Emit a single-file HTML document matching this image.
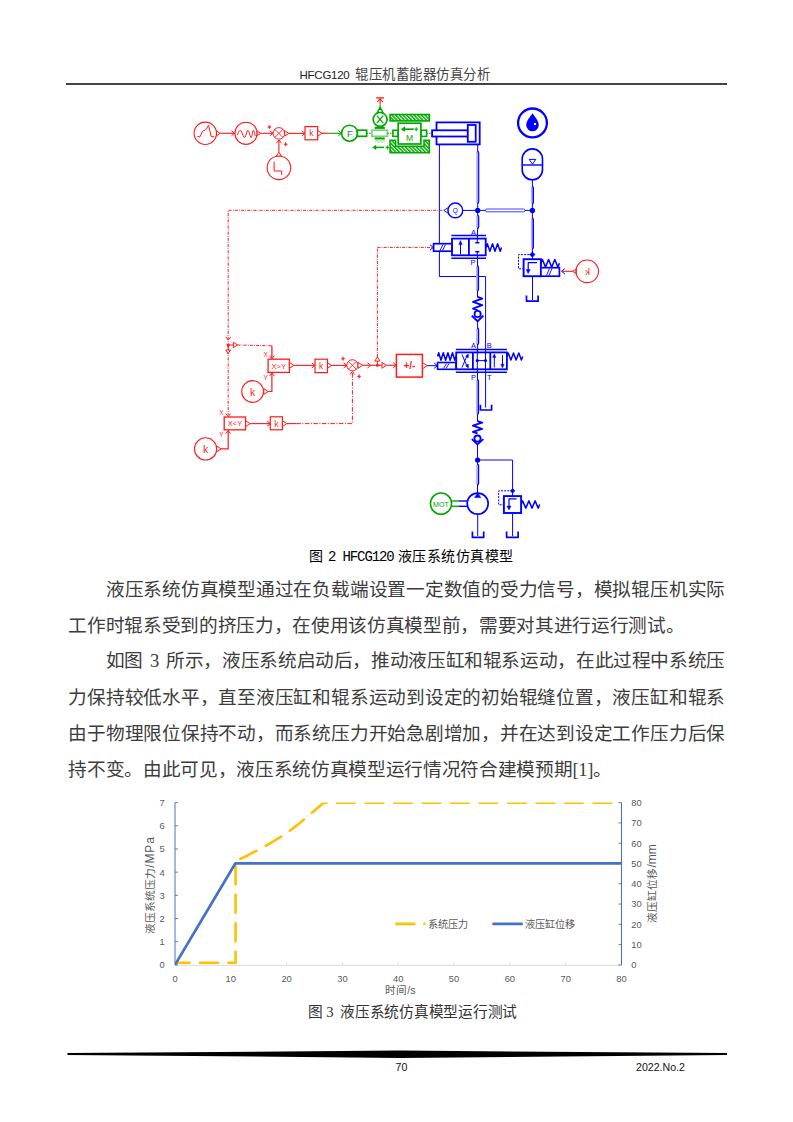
<!DOCTYPE html>
<html lang="zh-CN">
<head>
<meta charset="utf-8">
<style>
html,body{margin:0;padding:0;background:#fff;}
body{width:793px;height:1122px;position:relative;overflow:hidden;font-family:"Liberation Serif",serif;color:#000;}
.abs{position:absolute;white-space:nowrap;}
.hdr{left:299px;top:64px;font-family:"Liberation Sans",sans-serif;font-size:13px;line-height:18px;color:#222;}
.ln{position:absolute;left:68.3px;color:#3c3c3c;width:656.7px;height:20px;font-size:18.67px;line-height:20px;white-space:nowrap;letter-spacing:-0.33px;}
.j{text-align:justify;text-align-last:justify;white-space:nowrap;}
.cap2{left:309px;top:547px;letter-spacing:0.5px;font-size:14px;line-height:18px;font-family:"Liberation Sans",sans-serif;}
.mono{font-family:"Liberation Mono",monospace;letter-spacing:-1.1px;}
.cap3{left:308px;top:1003px;font-size:14.7px;line-height:18px;letter-spacing:-0.25px;color:#333;}
.foot{font-family:"Liberation Sans",sans-serif;font-size:10.6px;line-height:14px;color:#111;}
svg{position:absolute;left:0;top:0;}
</style>
</head>
<body>
<div class="abs hdr" style="left:299.5px;top:65.5px;font-size:11.5px;letter-spacing:-0.25px;">HFCG120</div>
<div class="abs hdr" id="hcjk" style="left:355px;top:66px;font-size:13.4px;letter-spacing:0.5px;color:#444;">辊压机蓄能器仿真分析</div>
<div class="abs" style="left:66px;top:83.2px;width:661px;height:1.6px;background:#444;"></div>

<div class="abs cap2">图 <span class="mono">2 HFCG120</span> 液压系统仿真模型</div>

<div class="ln j" style="top:579.8px;padding-left:37.5px;width:619.2px;">液压系统仿真模型通过在负载端设置一定数值的受力信号，模拟辊压机实际</div>
<div class="ln" style="top:615.8px;">工作时辊系受到的挤压力，在使用该仿真模型前，需要对其进行运行测试。</div>
<div class="ln j" style="top:651.4px;padding-left:37.5px;width:619.2px;word-spacing:2.75px;letter-spacing:-0.38px;">如图 3 所示，液压系统启动后，推动液压缸和辊系运动，在此过程中系统压</div>
<div class="ln j" style="top:688px;">力保持较低水平，直至液压缸和辊系运动到设定的初始辊缝位置，液压缸和辊系</div>
<div class="ln j" style="top:724.2px;">由于物理限位保持不动，而系统压力开始急剧增加，并在达到设定工作压力后保</div>
<div class="ln" style="top:760.2px;">持不变。由此可见，液压系统仿真模型运行情况符合建模预期[1]。</div>

<div class="abs cap3">图 3&nbsp; 液压系统仿真模型运行测试</div>

<svg width="793" height="1122" viewBox="0 0 793 1122">
<defs>
<pattern id="hatch" patternUnits="userSpaceOnUse" width="2.6" height="3" patternTransform="rotate(-45)"><rect width="2.6" height="3" fill="#fff"/><rect width="1.5" height="3" fill="#00a800"/></pattern>
<pattern id="hatchL" patternUnits="userSpaceOnUse" width="2.6" height="3" patternTransform="rotate(-45)"><rect width="2.6" height="3" fill="#fff"/><rect width="1.2" height="3" fill="#9bd89b"/></pattern>
</defs>
<g id="diag">
<circle cx="205.3" cy="133.3" r="11.2" stroke="#ff1a1a" stroke-width="1.1" fill="none" />
<polyline points="197.3,136.7 200.1,136.7 202.6,131.2 205.1,130.2 206.6,128.7 208.5,125.1 209.7,130.2 211.2,136.7 214.2,136.7" stroke="#ff1a1a" stroke-width="1.0" fill="none" stroke-linejoin="round" />
<polygon points="216.5,130.8 220.3,133.3 216.5,135.8" stroke="#ff1a1a" stroke-width="1.0" fill="#fff" stroke-linejoin="round" />
<line x1="220.3" y1="133.3" x2="234.6" y2="133.3" stroke="#ff1a1a" stroke-width="1.1" />
<polyline points="231.4,130.7 234.6,133.3 231.4,135.9" stroke="#ff1a1a" stroke-width="1.0" fill="none" stroke-linejoin="round" />
<circle cx="246" cy="133.3" r="11.1" stroke="#ff1a1a" stroke-width="1.1" fill="none" />
<polyline points="237.3,135 237.8,133.9 238.3,132.8 238.8,131.8 239.3,131 239.8,130.5 240.3,130.3 241,130.8 241.7,132.1 242.4,133.9 243.2,135.7 243.9,137 244.6,137.5 245.2,137 245.7,135.7 246.3,133.9 246.9,132.1 247.4,130.8 248,130.3 248.5,130.8 249.1,132.1 249.6,133.9 250.1,135.7 250.7,137 251.2,137.5 251.6,137 251.9,135.7 252.3,133.9 252.7,132.1 253,130.8 253.4,130.3 253.7,130.5 254,131.2 254.4,132.3 254.7,133.5 255,134.8 255.3,136" stroke="#ff1a1a" stroke-width="1.0" fill="none" stroke-linejoin="round" />
<polygon points="257.1,131 260.7,133.3 257.1,135.6" stroke="#ff1a1a" stroke-width="1.0" fill="#fff" stroke-linejoin="round" />
<line x1="260.7" y1="133.3" x2="273" y2="133.3" stroke="#ff1a1a" stroke-width="1.1" />
<polyline points="269.8,130.7 273,133.3 269.8,135.9" stroke="#ff1a1a" stroke-width="1.0" fill="none" stroke-linejoin="round" />
<circle cx="278.9" cy="133.4" r="5.8" stroke="#ff1a1a" stroke-width="1.0" fill="none" />
<line x1="274.8" y1="129.3" x2="283" y2="137.5" stroke="#ff1a1a" stroke-width="0.9" />
<line x1="283" y1="129.3" x2="274.8" y2="137.5" stroke="#ff1a1a" stroke-width="0.9" />
<polygon points="269.3,125.1 269.8,126.6 271.1,127.1 269.8,127.6 269.3,129.1 268.8,127.6 267.5,127.1 268.8,126.6" stroke="#ff1a1a" stroke-width="0.5" fill="#ff1a1a" stroke-linejoin="round" />
<polygon points="285.7,142.3 286.2,143.8 287.5,144.3 286.2,144.8 285.7,146.3 285.2,144.8 283.9,144.3 285.2,143.8" stroke="#ff1a1a" stroke-width="0.5" fill="#ff1a1a" stroke-linejoin="round" />
<polygon points="284.7,130.7 288.9,133.4 284.7,136.1" stroke="#ff1a1a" stroke-width="1.0" fill="#fff" stroke-linejoin="round" />
<line x1="288.9" y1="133.4" x2="305" y2="133.4" stroke="#ff1a1a" stroke-width="1.1" />
<polyline points="301.8,130.8 305,133.4 301.8,136" stroke="#ff1a1a" stroke-width="1.0" fill="none" stroke-linejoin="round" />
<rect x="305" y="126.6" width="12.7" height="13.2" stroke="#ff1a1a" stroke-width="1.2" fill="#fff" />
<text x="311.4" y="136.4" fill="#ff1a1a" font-size="8.5" font-family="Liberation Sans, sans-serif" text-anchor="middle" >k</text>
<polygon points="317.7,130.5 322,133.3 317.7,136.1" stroke="#ff1a1a" stroke-width="1.0" fill="#fff" stroke-linejoin="round" />
<line x1="322" y1="133.3" x2="330" y2="133.3" stroke="#ff1a1a" stroke-width="1.1" />
<line x1="330" y1="133.3" x2="341.5" y2="133.3" stroke="#00a800" stroke-width="1.1" />
<polyline points="338.3,130.7 341.5,133.3 338.3,135.9" stroke="#00a800" stroke-width="1.0" fill="none" stroke-linejoin="round" />
<circle cx="278.9" cy="167.8" r="11.8" stroke="#ff1a1a" stroke-width="1.1" fill="none" />
<polyline points="274.1,161.5 274.1,171 281.7,171 281.7,175.1" stroke="#ff1a1a" stroke-width="1.0" fill="none" stroke-linejoin="round" />
<polygon points="276.4,156 278.9,152.2 281.4,156" stroke="#ff1a1a" stroke-width="1.0" fill="#fff" stroke-linejoin="round" />
<line x1="278.9" y1="152.2" x2="278.9" y2="140" stroke="#ff1a1a" stroke-width="1.1" />
<polyline points="276.3,143.2 278.9,140 281.5,143.2" stroke="#ff1a1a" stroke-width="1.0" fill="none" stroke-linejoin="round" />
<circle cx="349.6" cy="133.2" r="8" stroke="#00a800" stroke-width="1.6" fill="#fff" />
<text x="349.8" y="136.6" fill="#00a800" font-size="9.5" font-family="Liberation Sans, sans-serif" text-anchor="middle" >F</text>
<rect x="357.4" y="130.2" width="9.2" height="6.1" stroke="#00a800" stroke-width="1.7" fill="#fff" />
<line x1="366.6" y1="133.3" x2="371.9" y2="133.3" stroke="#00a800" stroke-width="1.0" stroke-dasharray="1.5 1"/>
<rect x="375" y="127" width="9.7" height="1.8" stroke="#00a800" stroke-width="0.5" fill="#00a800" />
<rect x="371.9" y="130.2" width="15.5" height="6.1" stroke="#7fd07f" stroke-width="1.7" fill="#fff" />
<rect x="375" y="137.8" width="9.7" height="1.6" stroke="#00a800" stroke-width="0.5" fill="#00a800" />
<rect x="375" y="139.6" width="9.7" height="3.4" stroke="none" stroke-width="0" fill="url(#hatchL)" />
<polygon points="376.8,113.6 380.1,107.4 383.4,113.6" stroke="#00a800" stroke-width="1.5" fill="#fff" stroke-linejoin="round" />
<circle cx="380.1" cy="119.4" r="6.9" stroke="#00a800" stroke-width="1.7" fill="#fff" />
<line x1="376.9" y1="115.6" x2="383.3" y2="123.2" stroke="#00a800" stroke-width="1.3" />
<line x1="383.3" y1="115.6" x2="376.9" y2="123.2" stroke="#00a800" stroke-width="1.3" />
<line x1="380.1" y1="107.4" x2="380.1" y2="104.5" stroke="#00a800" stroke-width="1.1" />
<line x1="380.1" y1="104.5" x2="380.1" y2="99" stroke="#ff1a1a" stroke-width="1.1" />
<polyline points="377.2,102 380.1,98.8 383,102" stroke="#ff1a1a" stroke-width="1.1" fill="none" stroke-linejoin="round" />
<line x1="376.3" y1="97.9" x2="383.9" y2="97.9" stroke="#ff1a1a" stroke-width="1.4" />
<line x1="374.5" y1="147.4" x2="384" y2="147.4" stroke="#00a800" stroke-width="1.5" />
<polygon points="372.6,147.4 376,145.3 376,149.5" stroke="#00a800" stroke-width="0.5" fill="#00a800" stroke-linejoin="round" />
<polygon points="387.4,145.4 387.9,146.9 389.2,147.4 387.9,147.9 387.4,149.4 386.9,147.9 385.6,147.4 386.9,146.9" stroke="#00a800" stroke-width="0.5" fill="#00a800" stroke-linejoin="round" />
<line x1="387.4" y1="133.3" x2="392.9" y2="133.3" stroke="#00a800" stroke-width="1.0" stroke-dasharray="1.5 1"/>
<rect x="390.1" y="114.5" width="39.2" height="6.4" stroke="#00a800" stroke-width="1.6" fill="url(#hatch)" />
<path d="M390.1,140.2 H395.6 V146.2 H424 V140.2 H429.3 V152.8 H390.1 Z" stroke="#00a800" stroke-width="1.6" fill="url(#hatch)"/>
<rect x="392.9" y="130.3" width="5.3" height="6.1" stroke="#00a800" stroke-width="1.6" fill="#fff" />
<rect x="420.9" y="130.3" width="5.7" height="6.1" stroke="#00a800" stroke-width="1.6" fill="#fff" />
<rect x="398.2" y="123.2" width="22.7" height="20.8" stroke="#00a800" stroke-width="1.7" fill="#fff" />
<line x1="403.5" y1="129.2" x2="413.8" y2="129.2" stroke="#00a800" stroke-width="1.6" />
<polygon points="401.2,129.2 404.8,126.6 404.8,131.8" stroke="#00a800" stroke-width="0.5" fill="#00a800" stroke-linejoin="round" />
<polygon points="416.2,127.2 416.7,128.7 418,129.2 416.7,129.7 416.2,131.2 415.7,129.7 414.4,129.2 415.7,128.7" stroke="#00a800" stroke-width="0.5" fill="#00a800" stroke-linejoin="round" />
<text x="409.6" y="141.3" fill="#00a800" font-size="8.5" font-family="Liberation Sans, sans-serif" text-anchor="middle" >M</text>
<line x1="426.6" y1="133.3" x2="432.1" y2="133.3" stroke="#00a800" stroke-width="1.0" stroke-dasharray="1.5 1"/>
<rect x="436.5" y="122.4" width="43.2" height="22" stroke="#0000ff" stroke-width="1.8" fill="#fff" />
<rect x="432.1" y="130.3" width="35.7" height="6.2" stroke="#0000ff" stroke-width="1.8" fill="#fff" />
<rect x="467.8" y="125" width="7.9" height="16.8" stroke="#0000ff" stroke-width="1.8" fill="#fff" />
<polyline points="439.4,144.4 439.4,276.5 485.6,276.5 485.6,407.5" stroke="#0000ff" stroke-width="1.0" fill="none" stroke-linejoin="round" />
<line x1="477.7" y1="144.4" x2="477.7" y2="152" stroke="#0000ff" stroke-width="1.0" />
<rect x="476.2" y="152" width="1.9" height="50.8" fill="#aeaeff"/>
<path d="M477.5,151.4 Q478.7,151.6 478.7,153 V201.8 Q478.7,203.2 477.5,203.4" stroke="#0000ff" stroke-width="1.2" fill="none"/>
<line x1="477.7" y1="202.8" x2="477.7" y2="230" stroke="#0000ff" stroke-width="1.0" />
<rect x="476.2" y="216" width="1.9" height="11.8" fill="#aeaeff"/>
<path d="M477.5,215.4 Q478.7,215.6 478.7,217 V226.8 Q478.7,228.2 477.5,228.4" stroke="#0000ff" stroke-width="1.2" fill="none"/>
<circle cx="477.7" cy="210.4" r="2.6" stroke="none" stroke-width="0" fill="#0000ff" />
<line x1="462.8" y1="210.4" x2="477.7" y2="210.4" stroke="#0000ff" stroke-width="1.0" />
<circle cx="455.3" cy="210.4" r="7.4" stroke="#0000ff" stroke-width="1.4" fill="#fff" />
<text x="455.3" y="213.3" fill="#0000ff" font-size="6.5" font-family="Liberation Sans, sans-serif" text-anchor="middle" >Q</text>
<polygon points="447.8,207.8 443.8,210.4 447.8,213" stroke="#0000ff" stroke-width="0.9" fill="#fff" stroke-linejoin="round" />
<rect x="485.5" y="209" width="39.4" height="2.8" rx="1.3" stroke="#0000ff" stroke-width="0.75" fill="#fff"/>
<line x1="477.7" y1="210.4" x2="485.5" y2="210.4" stroke="#0000ff" stroke-width="1.0" />
<line x1="524.9" y1="210.4" x2="532.4" y2="210.4" stroke="#0000ff" stroke-width="1.0" />
<circle cx="532.4" cy="210.4" r="2.6" stroke="none" stroke-width="0" fill="#0000ff" />
<line x1="532.4" y1="180" x2="532.4" y2="254.6" stroke="#0000ff" stroke-width="1.0" />
<rect x="530.9" y="186.9" width="1.9" height="16.7" fill="#aeaeff"/>
<path d="M532.2,186.3 Q533.4,186.5 533.4,187.9 V202.6 Q533.4,204 532.2,204.2" stroke="#0000ff" stroke-width="1.2" fill="none"/>
<rect x="530.9" y="218.7" width="1.9" height="29.5" fill="#aeaeff"/>
<path d="M532.2,218.1 Q533.4,218.3 533.4,219.7 V247.2 Q533.4,248.6 532.2,248.8" stroke="#0000ff" stroke-width="1.2" fill="none"/>
<polygon points="532.4,251.9 535.1,254.6 532.4,257.3 529.7,254.6" stroke="#0000ff" stroke-width="0.5" fill="#0000ff" stroke-linejoin="round" />
<rect x="522.2" y="148.9" width="20.3" height="30.9" rx="10.1" ry="10.1" stroke="#0000ff" stroke-width="1.6" fill="#fff"/>
<line x1="522.2" y1="165" x2="542.5" y2="165" stroke="#0000ff" stroke-width="1.4" />
<polygon points="529.2,159.4 535.8,159.4 532.5,164.2" stroke="#0000ff" stroke-width="1.0" fill="none" stroke-linejoin="round" />
<circle cx="532.5" cy="122.9" r="14.4" stroke="#0000ff" stroke-width="2.3" fill="#fff" />
<path d="M532.5,113.2 C534.5,116.5 538.8,120.5 538.8,125 A6.3,6.3 0 0 1 526.2,125 C526.2,120.5 530.5,116.5 532.5,113.2 Z" fill="#0000ff"/>
<rect x="534" y="123" width="2" height="2" stroke="none" stroke-width="0" fill="#fff" />
<line x1="451.4" y1="235.6" x2="486" y2="235.6" stroke="#0000ff" stroke-width="1.5" />
<line x1="451.4" y1="258.3" x2="486" y2="258.3" stroke="#0000ff" stroke-width="1.5" />
<rect x="452" y="238.6" width="33.7" height="16.7" stroke="#0000ff" stroke-width="1.8" fill="#fff" />
<line x1="468.9" y1="238.6" x2="468.9" y2="255.3" stroke="#0000ff" stroke-width="1.8" />
<line x1="460.5" y1="254.3" x2="460.5" y2="242.5" stroke="#0000ff" stroke-width="1.0" />
<polygon points="460.5,240.6 462.2,244.6 458.8,244.6" stroke="#0000ff" stroke-width="0.5" fill="#0000ff" stroke-linejoin="round" />
<line x1="477.3" y1="238.6" x2="477.3" y2="242.7" stroke="#0000ff" stroke-width="1.0" />
<line x1="475.3" y1="242.7" x2="479.4" y2="242.7" stroke="#0000ff" stroke-width="1.6" />
<line x1="477.3" y1="255.3" x2="477.3" y2="251.7" stroke="#0000ff" stroke-width="1.0" />
<line x1="475.3" y1="251.7" x2="479.4" y2="251.7" stroke="#0000ff" stroke-width="1.6" />
<rect x="433.6" y="243.7" width="18.3" height="7.5" stroke="#0000ff" stroke-width="1.7" fill="#fff" />
<line x1="440" y1="250.5" x2="443" y2="244.5" stroke="#0000ff" stroke-width="0.9" />
<line x1="442.5" y1="250.5" x2="445.5" y2="244.5" stroke="#0000ff" stroke-width="0.9" />
<polyline points="486,247.5 487.3,243.7 489.9,251.3 492.5,243.7 495,251.3 497.6,243.7 500.2,251.3 501.5,247.5" stroke="#0000ff" stroke-width="1.5" fill="none" stroke-linejoin="round" />
<text x="473.4" y="235" fill="#0000ff" font-size="7.5" font-family="Liberation Sans, sans-serif" text-anchor="middle" >A</text>
<text x="473" y="265.4" fill="#0000ff" font-size="7.5" font-family="Liberation Sans, sans-serif" text-anchor="middle" >P</text>
<line x1="477.5" y1="230" x2="477.5" y2="238.6" stroke="#0000ff" stroke-width="1.0" />
<line x1="477.5" y1="255.3" x2="477.5" y2="297" stroke="#0000ff" stroke-width="1.0" />
<rect x="476" y="266.4" width="1.9" height="24.2" fill="#aeaeff"/>
<path d="M477.3,265.8 Q478.5,266 478.5,267.4 V289.6 Q478.5,291 477.3,291.2" stroke="#0000ff" stroke-width="1.2" fill="none"/>
<polyline points="477.6,297 482.2,298.6 473,301.9 482.2,305.2 473,308.6 477.6,310.2" stroke="#0000ff" stroke-width="1.9" fill="none" stroke-linejoin="round" />
<circle cx="477.6" cy="314" r="3.1" stroke="#0000ff" stroke-width="1.8" fill="#fff" />
<polyline points="471.7,315.6 477.6,321.3 483.4,315.6" stroke="#0000ff" stroke-width="1.9" fill="none" stroke-linejoin="round" />
<line x1="477.6" y1="321.3" x2="477.6" y2="352.4" stroke="#0000ff" stroke-width="1.0" />
<rect x="476.1" y="328.5" width="1.9" height="15.5" fill="#aeaeff"/>
<path d="M477.4,327.9 Q478.6,328.1 478.6,329.5 V343 Q478.6,344.4 477.4,344.6" stroke="#0000ff" stroke-width="1.2" fill="none"/>
<line x1="455.9" y1="349.5" x2="506.9" y2="349.5" stroke="#0000ff" stroke-width="1.5" />
<line x1="455.9" y1="372.2" x2="506.9" y2="372.2" stroke="#0000ff" stroke-width="1.5" />
<rect x="456.2" y="352.4" width="50.7" height="16.9" stroke="#0000ff" stroke-width="1.8" fill="#fff" />
<line x1="472.9" y1="352.4" x2="472.9" y2="369.3" stroke="#0000ff" stroke-width="1.8" />
<line x1="490.3" y1="352.4" x2="490.3" y2="369.3" stroke="#0000ff" stroke-width="1.8" />
<line x1="462" y1="354.5" x2="467.5" y2="367.5" stroke="#0000ff" stroke-width="1.0" />
<line x1="467.5" y1="354.5" x2="462" y2="367.5" stroke="#0000ff" stroke-width="1.0" />
<polygon points="468.6,354.2 468.2,358 465.6,356.3" stroke="#0000ff" stroke-width="0.4" fill="#0000ff" stroke-linejoin="round" />
<polygon points="468.6,367.8 465.6,365.7 468.2,364" stroke="#0000ff" stroke-width="0.4" fill="#0000ff" stroke-linejoin="round" />
<line x1="477.3" y1="349.5" x2="477.3" y2="372.2" stroke="#0000ff" stroke-width="1.0" />
<line x1="485.5" y1="349.5" x2="485.5" y2="372.2" stroke="#0000ff" stroke-width="1.0" />
<line x1="477.3" y1="360.6" x2="485.5" y2="360.6" stroke="#0000ff" stroke-width="1.0" />
<circle cx="477.3" cy="360.6" r="1.6" stroke="none" stroke-width="0" fill="#0000ff" />
<circle cx="485.5" cy="360.6" r="1.6" stroke="none" stroke-width="0" fill="#0000ff" />
<line x1="494.3" y1="367.5" x2="494.3" y2="356" stroke="#0000ff" stroke-width="1.0" />
<polygon points="494.3,353.8 496,357.6 492.6,357.6" stroke="#0000ff" stroke-width="0.4" fill="#0000ff" stroke-linejoin="round" />
<line x1="502.5" y1="355" x2="502.5" y2="366" stroke="#0000ff" stroke-width="1.0" />
<polygon points="502.5,368 504.2,364.2 500.8,364.2" stroke="#0000ff" stroke-width="0.4" fill="#0000ff" stroke-linejoin="round" />
<polyline points="437.6,356.5 438.7,352.7 441,360.3 443.3,352.7 445.6,360.3 447.9,352.7 450.2,360.3 452.5,352.7 454.8,360.3 455.9,356.5" stroke="#0000ff" stroke-width="1.5" fill="none" stroke-linejoin="round" />
<rect x="437.6" y="362.5" width="18.3" height="6.8" stroke="#0000ff" stroke-width="1.6" fill="#fff" />
<line x1="443.5" y1="368.5" x2="446.5" y2="363.5" stroke="#0000ff" stroke-width="0.9" />
<line x1="446" y1="368.5" x2="449" y2="363.5" stroke="#0000ff" stroke-width="0.9" />
<polyline points="506.9,356.5 508.2,352.9 510.9,360.1 513.5,352.9 516.1,360.1 518.8,352.9 521.4,360.1 522.7,356.5" stroke="#0000ff" stroke-width="1.5" fill="none" stroke-linejoin="round" />
<text x="473.5" y="348" fill="#0000ff" font-size="7.5" font-family="Liberation Sans, sans-serif" text-anchor="middle" >A</text>
<text x="489.3" y="348" fill="#0000ff" font-size="7.5" font-family="Liberation Sans, sans-serif" text-anchor="middle" >B</text>
<text x="473.5" y="380" fill="#0000ff" font-size="7.5" font-family="Liberation Sans, sans-serif" text-anchor="middle" >P</text>
<text x="489.3" y="380" fill="#0000ff" font-size="7.5" font-family="Liberation Sans, sans-serif" text-anchor="middle" >T</text>
<line x1="477.5" y1="369.3" x2="477.5" y2="421.2" stroke="#0000ff" stroke-width="1.0" />
<rect x="476" y="380.2" width="1.9" height="33.5" fill="#aeaeff"/>
<path d="M477.3,379.6 Q478.5,379.8 478.5,381.2 V412.7 Q478.5,414.1 477.3,414.3" stroke="#0000ff" stroke-width="1.2" fill="none"/>
<polyline points="480.4,404.8 480.4,410 491.6,410 491.6,404.8" stroke="#0000ff" stroke-width="1.7" fill="none" stroke-linejoin="round" />
<polyline points="477.5,421.2 482.1,422.7 472.9,425.7 482.1,428.8 472.9,431.8 477.5,433.3" stroke="#0000ff" stroke-width="1.9" fill="none" stroke-linejoin="round" />
<circle cx="477.5" cy="438.6" r="3.1" stroke="#0000ff" stroke-width="1.8" fill="#fff" />
<polyline points="471.9,439.1 477.5,444.4 483.3,439.1" stroke="#0000ff" stroke-width="1.9" fill="none" stroke-linejoin="round" />
<line x1="477.5" y1="444.4" x2="477.5" y2="493" stroke="#0000ff" stroke-width="1.0" />
<circle cx="477.6" cy="460" r="2.6" stroke="none" stroke-width="0" fill="#0000ff" />
<rect x="476.1" y="464.6" width="1.9" height="19.7" fill="#aeaeff"/>
<path d="M477.4,464 Q478.6,464.2 478.6,465.6 V483.3 Q478.6,484.7 477.4,484.9" stroke="#0000ff" stroke-width="1.2" fill="none"/>
<polyline points="477.6,460 512.6,460 512.6,496" stroke="#0000ff" stroke-width="1.0" fill="none" stroke-linejoin="round" />
<polygon points="512.6,488.4 515,490.8 512.6,493.2 510.2,490.8" stroke="#0000ff" stroke-width="0.5" fill="#0000ff" stroke-linejoin="round" />
<circle cx="477.7" cy="503.6" r="10.5" stroke="#0000ff" stroke-width="1.7" fill="#fff" />
<polygon points="477.7,493.2 480.8,497.6 474.6,497.6" stroke="#0000ff" stroke-width="0.6" fill="#0000ff" stroke-linejoin="round" />
<line x1="477.7" y1="514.1" x2="477.7" y2="536" stroke="#0000ff" stroke-width="1.0" />
<polyline points="472.4,531.6 472.4,537.4 483.7,537.4 483.7,531.6" stroke="#0000ff" stroke-width="1.7" fill="none" stroke-linejoin="round" />
<circle cx="441" cy="503.6" r="10.6" stroke="#00a800" stroke-width="1.6" fill="#fff" />
<text x="441" y="506.5" fill="#00a800" font-size="7.2" font-family="Liberation Sans, sans-serif" text-anchor="middle" >MOT</text>
<line x1="451.5" y1="501" x2="458.5" y2="501" stroke="#00a800" stroke-width="1.4" />
<line x1="451.5" y1="506.3" x2="458.5" y2="506.3" stroke="#00a800" stroke-width="1.4" />
<line x1="458.5" y1="501" x2="467.3" y2="501" stroke="#0000ff" stroke-width="1.4" />
<line x1="458.5" y1="506.3" x2="467.3" y2="506.3" stroke="#0000ff" stroke-width="1.4" />
<rect x="503.9" y="496.1" width="17.2" height="16.9" stroke="#0000ff" stroke-width="1.9" fill="#fff" />
<polyline points="516.5,498.8 509,498.8 509,507" stroke="#0000ff" stroke-width="1.2" fill="none" stroke-linejoin="round" />
<polygon points="509,510 511,506 507,506" stroke="#0000ff" stroke-width="0.5" fill="#0000ff" stroke-linejoin="round" />
<polyline points="512.6,490.8 498.7,490.8 498.7,504.8 503.9,504.8" stroke="#0000ff" stroke-width="1.0" fill="none" stroke-linejoin="round" stroke-dasharray="2 1.2"/>
<polyline points="521.1,504.5 522.6,500.9 525.8,508.1 528.9,500.9 532,508.1 535.1,500.9 538.2,508.1 539.7,504.5" stroke="#0000ff" stroke-width="1.5" fill="none" stroke-linejoin="round" />
<line x1="512.6" y1="513" x2="512.6" y2="536" stroke="#0000ff" stroke-width="1.0" />
<polyline points="506.6,531.6 506.6,537.4 518.1,537.4 518.1,531.6" stroke="#0000ff" stroke-width="1.7" fill="none" stroke-linejoin="round" />
<rect x="523.6" y="259.2" width="17.3" height="17" stroke="#0000ff" stroke-width="1.9" fill="#fff" />
<rect x="540.9" y="267.7" width="18.5" height="8.5" stroke="#0000ff" stroke-width="1.7" fill="#fff" />
<polyline points="540.9,263.3 542.4,259.5 545.5,267.1 548.6,259.5 551.7,267.1 554.8,259.5 557.9,267.1 559.4,263.3" stroke="#0000ff" stroke-width="1.5" fill="none" stroke-linejoin="round" />
<line x1="546.5" y1="275.5" x2="549.5" y2="268.5" stroke="#0000ff" stroke-width="0.9" />
<line x1="549" y1="275.5" x2="552" y2="268.5" stroke="#0000ff" stroke-width="0.9" />
<polyline points="537,262.6 528.2,262.6 528.2,270.5" stroke="#0000ff" stroke-width="1.2" fill="none" stroke-linejoin="round" />
<polygon points="528.2,273.6 530.2,269.6 526.2,269.6" stroke="#0000ff" stroke-width="0.5" fill="#0000ff" stroke-linejoin="round" />
<polyline points="532.5,254.6 518.5,254.6 518.5,268.8 523.6,268.8" stroke="#0000ff" stroke-width="1.0" fill="none" stroke-linejoin="round" stroke-dasharray="2 1.2"/>
<line x1="532.4" y1="254.6" x2="532.4" y2="259.2" stroke="#0000ff" stroke-width="1.0" />
<line x1="532.5" y1="276.2" x2="532.5" y2="300" stroke="#0000ff" stroke-width="1.0" />
<polyline points="526.5,295.5 526.5,301.2 538.1,301.2 538.1,295.5" stroke="#0000ff" stroke-width="1.7" fill="none" stroke-linejoin="round" />
<polyline points="564.8,268.7 561.6,271.3 564.8,273.9" stroke="#0000ff" stroke-width="1.0" fill="none" stroke-linejoin="round" />
<line x1="561.6" y1="271.3" x2="573" y2="271.3" stroke="#ff1a1a" stroke-width="1.1" />
<polygon points="576.3,269 572.7,271.3 576.3,273.6" stroke="#ff1a1a" stroke-width="1.0" fill="#fff" stroke-linejoin="round" />
<circle cx="587.2" cy="271.3" r="11.3" stroke="#ff1a1a" stroke-width="1.1" fill="none" />
<text x="587.5" y="274.8" fill="#ff1a1a" font-size="9.5" font-family="Liberation Sans, sans-serif" text-anchor="middle" transform="translate(1175,0) scale(-1,1)">k</text>
<polyline points="442.4,210.3 228.2,210.3 228.2,345" stroke="#ff1a1a" stroke-width="1.0" fill="none" stroke-linejoin="round" stroke-dasharray="3 1.2 0.8 1.2"/>
<line x1="228.2" y1="345" x2="228.2" y2="415" stroke="#ff1a1a" stroke-width="1.0" stroke-dasharray="3 1.2 0.8 1.2"/>
<polyline points="225.6,336.8 228.2,340 230.8,336.8" stroke="#ff1a1a" stroke-width="1.0" fill="none" stroke-linejoin="round" />
<circle cx="228.2" cy="345" r="1.6" stroke="none" stroke-width="0" fill="#ff1a1a" />
<line x1="228.2" y1="345" x2="228.2" y2="350" stroke="#ff1a1a" stroke-width="1.0" />
<polygon points="225.9,350 228.2,353.6 230.5,350" stroke="#ff1a1a" stroke-width="1.0" fill="#fff" stroke-linejoin="round" />
<line x1="228.2" y1="345" x2="233.3" y2="345" stroke="#ff1a1a" stroke-width="1.0" />
<polygon points="233.3,342.3 237.5,345 233.3,347.7" stroke="#ff1a1a" stroke-width="1.0" fill="#fff" stroke-linejoin="round" />
<polyline points="237.5,345 271.9,345.8" stroke="#ff1a1a" stroke-width="1.0" fill="none" stroke-linejoin="round" stroke-dasharray="3 1.2 0.8 1.2"/>
<line x1="271.9" y1="345.8" x2="271.9" y2="358.7" stroke="#ff1a1a" stroke-width="1.3" />
<polyline points="269.5,355.7 271.9,358.7 274.3,355.7" stroke="#ff1a1a" stroke-width="1.0" fill="none" stroke-linejoin="round" />
<rect x="268.1" y="359.2" width="21.3" height="13.2" stroke="#ff1a1a" stroke-width="1.3" fill="#fff" />
<text x="278.8" y="368.6" fill="#ff1a1a" font-size="7.5" font-family="Liberation Sans, sans-serif" text-anchor="middle" >X&gt;Y</text>
<text x="265.6" y="357" fill="#ff1a1a" font-size="6.5" font-family="Liberation Sans, sans-serif" text-anchor="middle" >X</text>
<text x="265.6" y="379.5" fill="#ff1a1a" font-size="6.5" font-family="Liberation Sans, sans-serif" text-anchor="middle" >Y</text>
<polygon points="289.4,362.5 293.9,365.4 289.4,368.3" stroke="#ff1a1a" stroke-width="1.0" fill="#fff" stroke-linejoin="round" />
<line x1="294" y1="365.4" x2="315" y2="365.4" stroke="#ff1a1a" stroke-width="1.1" />
<polyline points="311.8,362.8 315,365.4 311.8,368" stroke="#ff1a1a" stroke-width="1.0" fill="none" stroke-linejoin="round" />
<circle cx="252.6" cy="391.5" r="10.9" stroke="#ff1a1a" stroke-width="1.1" fill="none" />
<text x="252.6" y="395.6" fill="#ff1a1a" font-size="10.5" font-family="Liberation Sans, sans-serif" text-anchor="middle" >k</text>
<polygon points="263.8,388.6 268.2,391.5 263.8,394.4" stroke="#ff1a1a" stroke-width="1.0" fill="#fff" stroke-linejoin="round" />
<polyline points="268.2,391.5 271.9,391.5 271.9,373" stroke="#ff1a1a" stroke-width="1.2" fill="none" stroke-linejoin="round" />
<polyline points="269.5,376 271.9,373 274.3,376" stroke="#ff1a1a" stroke-width="1.0" fill="none" stroke-linejoin="round" />
<rect x="315" y="359.2" width="12.5" height="13.4" stroke="#ff1a1a" stroke-width="1.2" fill="#fff" />
<text x="321.2" y="369" fill="#ff1a1a" font-size="8.5" font-family="Liberation Sans, sans-serif" text-anchor="middle" >k</text>
<polygon points="327.5,362.8 331.7,365.5 327.5,368.2" stroke="#ff1a1a" stroke-width="1.0" fill="#fff" stroke-linejoin="round" />
<line x1="331.7" y1="365.4" x2="346.8" y2="365.4" stroke="#ff1a1a" stroke-width="1.1" />
<polyline points="343.6,362.8 346.8,365.4 343.6,368" stroke="#ff1a1a" stroke-width="1.0" fill="none" stroke-linejoin="round" />
<circle cx="352.4" cy="365.3" r="5.6" stroke="#ff1a1a" stroke-width="1.0" fill="none" />
<line x1="348.4" y1="361.3" x2="356.4" y2="369.3" stroke="#ff1a1a" stroke-width="0.9" />
<line x1="356.4" y1="361.3" x2="348.4" y2="369.3" stroke="#ff1a1a" stroke-width="0.9" />
<polygon points="343,356.7 343.5,358.2 344.8,358.7 343.5,359.2 343,360.7 342.5,359.2 341.2,358.7 342.5,358.2" stroke="#ff1a1a" stroke-width="0.5" fill="#ff1a1a" stroke-linejoin="round" />
<polygon points="359.1,374.4 359.6,375.9 360.9,376.4 359.6,376.9 359.1,378.4 358.6,376.9 357.3,376.4 358.6,375.9" stroke="#ff1a1a" stroke-width="0.5" fill="#ff1a1a" stroke-linejoin="round" />
<polygon points="358,362.3 362.6,365.3 358,368.3" stroke="#ff1a1a" stroke-width="1.0" fill="#fff" stroke-linejoin="round" />
<line x1="362.6" y1="365.3" x2="382" y2="365.3" stroke="#ff1a1a" stroke-width="1.1" />
<polyline points="367.5,362.7 370.7,365.3 367.5,367.9" stroke="#ff1a1a" stroke-width="1.0" fill="none" stroke-linejoin="round" />
<circle cx="377.4" cy="365.3" r="1.5" stroke="none" stroke-width="0" fill="#ff1a1a" />
<line x1="377.4" y1="365.3" x2="377.4" y2="361" stroke="#ff1a1a" stroke-width="1.0" />
<polygon points="374.8,361 377.4,357 380,361" stroke="#ff1a1a" stroke-width="1.0" fill="#fff" stroke-linejoin="round" />
<line x1="377.4" y1="357" x2="377.4" y2="247.4" stroke="#ff1a1a" stroke-width="1.0" stroke-dasharray="3 1.2 0.8 1.2"/>
<line x1="377.4" y1="247.4" x2="433.2" y2="247.4" stroke="#ff1a1a" stroke-width="1.0" stroke-dasharray="3 1.2 0.8 1.2"/>
<polyline points="430.1,244.8 433.3,247.4 430.1,250" stroke="#0000ff" stroke-width="1.0" fill="none" stroke-linejoin="round" />
<polygon points="382,362.4 386.4,365.3 382,368.2" stroke="#ff1a1a" stroke-width="1.0" fill="#fff" stroke-linejoin="round" />
<line x1="386.4" y1="365.3" x2="396.4" y2="365.3" stroke="#ff1a1a" stroke-width="1.1" />
<polyline points="393.2,362.7 396.4,365.3 393.2,367.9" stroke="#ff1a1a" stroke-width="1.0" fill="none" stroke-linejoin="round" />
<rect x="396.4" y="354.4" width="26" height="22.7" stroke="#ff1a1a" stroke-width="1.5" fill="#fff" />
<text x="409.4" y="369.3" fill="#ff1a1a" font-size="10" font-family="Liberation Sans, sans-serif" text-anchor="middle" font-weight="bold">+/-</text>
<polygon points="422.4,362.6 427.2,365.7 422.4,368.8" stroke="#ff1a1a" stroke-width="1.0" fill="#fff" stroke-linejoin="round" />
<line x1="427.2" y1="365.7" x2="437.4" y2="365.7" stroke="#0000ff" stroke-width="1.0" />
<polyline points="434.2,363.1 437.4,365.7 434.2,368.3" stroke="#0000ff" stroke-width="1.0" fill="none" stroke-linejoin="round" />
<polyline points="225.8,413.6 228.2,416.6 230.6,413.6" stroke="#ff1a1a" stroke-width="1.0" fill="none" stroke-linejoin="round" />
<rect x="224.2" y="417" width="21.4" height="12.8" stroke="#ff1a1a" stroke-width="1.3" fill="#fff" />
<text x="235" y="426.3" fill="#ff1a1a" font-size="7.5" font-family="Liberation Sans, sans-serif" text-anchor="middle" >X&lt;Y</text>
<text x="221.5" y="414.5" fill="#ff1a1a" font-size="6.5" font-family="Liberation Sans, sans-serif" text-anchor="middle" >X</text>
<text x="221.5" y="437.3" fill="#ff1a1a" font-size="6.5" font-family="Liberation Sans, sans-serif" text-anchor="middle" >Y</text>
<circle cx="205.6" cy="448.9" r="11.1" stroke="#ff1a1a" stroke-width="1.1" fill="none" />
<text x="205.6" y="453" fill="#ff1a1a" font-size="10.5" font-family="Liberation Sans, sans-serif" text-anchor="middle" >k</text>
<polygon points="216.7,446 221.1,448.9 216.7,451.8" stroke="#ff1a1a" stroke-width="1.0" fill="#fff" stroke-linejoin="round" />
<polyline points="221.1,448.9 228.2,448.9 228.2,430.6" stroke="#ff1a1a" stroke-width="1.2" fill="none" stroke-linejoin="round" />
<polyline points="225.8,433.6 228.2,430.6 230.6,433.6" stroke="#ff1a1a" stroke-width="1.0" fill="none" stroke-linejoin="round" />
<polygon points="245.6,420.7 250.1,423.6 245.6,426.5" stroke="#ff1a1a" stroke-width="1.0" fill="#fff" stroke-linejoin="round" />
<line x1="250.1" y1="423.6" x2="270.3" y2="423.6" stroke="#ff1a1a" stroke-width="1.1" />
<polyline points="267.1,421 270.3,423.6 267.1,426.2" stroke="#ff1a1a" stroke-width="1.0" fill="none" stroke-linejoin="round" />
<rect x="270.3" y="416.8" width="12.1" height="13" stroke="#ff1a1a" stroke-width="1.2" fill="#fff" />
<text x="276.4" y="426.6" fill="#ff1a1a" font-size="8.5" font-family="Liberation Sans, sans-serif" text-anchor="middle" >k</text>
<polygon points="282.4,420.7 286.8,423.6 282.4,426.5" stroke="#ff1a1a" stroke-width="1.0" fill="#fff" stroke-linejoin="round" />
<line x1="286.8" y1="423.6" x2="296.4" y2="423.6" stroke="#ff1a1a" stroke-width="1.1" />
<polyline points="296.4,423.6 352.4,423.6 352.4,372" stroke="#ff1a1a" stroke-width="1.0" fill="none" stroke-linejoin="round" stroke-dasharray="4.5 1.5 1 1.5"/>
<polyline points="350,374.5 352.4,371.5 354.8,374.5" stroke="#ff1a1a" stroke-width="1.0" fill="none" stroke-linejoin="round" />
</g>
<g id="chart">
<clipPath id="plotclip"><rect x="175.0" y="802.6" width="446.5" height="163.29999999999995"/></clipPath>
<line x1="175.0" y1="965.3" x2="621.5" y2="965.3" stroke="#d9d9d9" stroke-width="1"/>
<line x1="175" y1="962.3" x2="175" y2="964.9" stroke="#d9d9d9" stroke-width="0.9"/>
<text x="175" y="982.1" fill="#595959" font-size="9.4" font-family="Liberation Sans, sans-serif" text-anchor="middle">0</text>
<line x1="230.81" y1="962.3" x2="230.81" y2="964.9" stroke="#d9d9d9" stroke-width="0.9"/>
<text x="230.81" y="982.1" fill="#595959" font-size="9.4" font-family="Liberation Sans, sans-serif" text-anchor="middle">10</text>
<line x1="286.62" y1="962.3" x2="286.62" y2="964.9" stroke="#d9d9d9" stroke-width="0.9"/>
<text x="286.62" y="982.1" fill="#595959" font-size="9.4" font-family="Liberation Sans, sans-serif" text-anchor="middle">20</text>
<line x1="342.44" y1="962.3" x2="342.44" y2="964.9" stroke="#d9d9d9" stroke-width="0.9"/>
<text x="342.44" y="982.1" fill="#595959" font-size="9.4" font-family="Liberation Sans, sans-serif" text-anchor="middle">30</text>
<line x1="398.25" y1="962.3" x2="398.25" y2="964.9" stroke="#d9d9d9" stroke-width="0.9"/>
<text x="398.25" y="982.1" fill="#595959" font-size="9.4" font-family="Liberation Sans, sans-serif" text-anchor="middle">40</text>
<line x1="454.06" y1="962.3" x2="454.06" y2="964.9" stroke="#d9d9d9" stroke-width="0.9"/>
<text x="454.06" y="982.1" fill="#595959" font-size="9.4" font-family="Liberation Sans, sans-serif" text-anchor="middle">50</text>
<line x1="509.88" y1="962.3" x2="509.88" y2="964.9" stroke="#d9d9d9" stroke-width="0.9"/>
<text x="509.88" y="982.1" fill="#595959" font-size="9.4" font-family="Liberation Sans, sans-serif" text-anchor="middle">60</text>
<line x1="565.69" y1="962.3" x2="565.69" y2="964.9" stroke="#d9d9d9" stroke-width="0.9"/>
<text x="565.69" y="982.1" fill="#595959" font-size="9.4" font-family="Liberation Sans, sans-serif" text-anchor="middle">70</text>
<line x1="621.5" y1="962.3" x2="621.5" y2="964.9" stroke="#d9d9d9" stroke-width="0.9"/>
<text x="621.5" y="982.1" fill="#595959" font-size="9.4" font-family="Liberation Sans, sans-serif" text-anchor="middle">80</text>
<line x1="175.0" y1="802.6" x2="175.0" y2="964.9" stroke="#4472c4" stroke-width="1"/>
<line x1="175.0" y1="964.9" x2="178.0" y2="964.9" stroke="#4472c4" stroke-width="0.9"/>
<text x="164.8" y="968.3" fill="#595959" font-size="9.4" font-family="Liberation Sans, sans-serif" text-anchor="end">0</text>
<line x1="175.0" y1="941.71" x2="178.0" y2="941.71" stroke="#4472c4" stroke-width="0.9"/>
<text x="164.8" y="945.11" fill="#595959" font-size="9.4" font-family="Liberation Sans, sans-serif" text-anchor="end">1</text>
<line x1="175.0" y1="918.53" x2="178.0" y2="918.53" stroke="#4472c4" stroke-width="0.9"/>
<text x="164.8" y="921.93" fill="#595959" font-size="9.4" font-family="Liberation Sans, sans-serif" text-anchor="end">2</text>
<line x1="175.0" y1="895.34" x2="178.0" y2="895.34" stroke="#4472c4" stroke-width="0.9"/>
<text x="164.8" y="898.74" fill="#595959" font-size="9.4" font-family="Liberation Sans, sans-serif" text-anchor="end">3</text>
<line x1="175.0" y1="872.16" x2="178.0" y2="872.16" stroke="#4472c4" stroke-width="0.9"/>
<text x="164.8" y="875.56" fill="#595959" font-size="9.4" font-family="Liberation Sans, sans-serif" text-anchor="end">4</text>
<line x1="175.0" y1="848.97" x2="178.0" y2="848.97" stroke="#4472c4" stroke-width="0.9"/>
<text x="164.8" y="852.37" fill="#595959" font-size="9.4" font-family="Liberation Sans, sans-serif" text-anchor="end">5</text>
<line x1="175.0" y1="825.79" x2="178.0" y2="825.79" stroke="#4472c4" stroke-width="0.9"/>
<text x="164.8" y="829.19" fill="#595959" font-size="9.4" font-family="Liberation Sans, sans-serif" text-anchor="end">6</text>
<line x1="175.0" y1="802.6" x2="178.0" y2="802.6" stroke="#4472c4" stroke-width="0.9"/>
<text x="164.8" y="806" fill="#595959" font-size="9.4" font-family="Liberation Sans, sans-serif" text-anchor="end">7</text>
<line x1="621.5" y1="802.6" x2="621.5" y2="964.9" stroke="#4472c4" stroke-width="1"/>
<line x1="618.5" y1="964.9" x2="621.5" y2="964.9" stroke="#4472c4" stroke-width="0.9"/>
<text x="631.2" y="968.3" fill="#595959" font-size="9.4" font-family="Liberation Sans, sans-serif">0</text>
<line x1="618.5" y1="944.61" x2="621.5" y2="944.61" stroke="#4472c4" stroke-width="0.9"/>
<text x="631.2" y="948.01" fill="#595959" font-size="9.4" font-family="Liberation Sans, sans-serif">10</text>
<line x1="618.5" y1="924.33" x2="621.5" y2="924.33" stroke="#4472c4" stroke-width="0.9"/>
<text x="631.2" y="927.73" fill="#595959" font-size="9.4" font-family="Liberation Sans, sans-serif">20</text>
<line x1="618.5" y1="904.04" x2="621.5" y2="904.04" stroke="#4472c4" stroke-width="0.9"/>
<text x="631.2" y="907.44" fill="#595959" font-size="9.4" font-family="Liberation Sans, sans-serif">30</text>
<line x1="618.5" y1="883.75" x2="621.5" y2="883.75" stroke="#4472c4" stroke-width="0.9"/>
<text x="631.2" y="887.15" fill="#595959" font-size="9.4" font-family="Liberation Sans, sans-serif">40</text>
<line x1="618.5" y1="863.46" x2="621.5" y2="863.46" stroke="#4472c4" stroke-width="0.9"/>
<text x="631.2" y="866.86" fill="#595959" font-size="9.4" font-family="Liberation Sans, sans-serif">50</text>
<line x1="618.5" y1="843.18" x2="621.5" y2="843.18" stroke="#4472c4" stroke-width="0.9"/>
<text x="631.2" y="846.58" fill="#595959" font-size="9.4" font-family="Liberation Sans, sans-serif">60</text>
<line x1="618.5" y1="822.89" x2="621.5" y2="822.89" stroke="#4472c4" stroke-width="0.9"/>
<text x="631.2" y="826.29" fill="#595959" font-size="9.4" font-family="Liberation Sans, sans-serif">70</text>
<line x1="618.5" y1="802.6" x2="621.5" y2="802.6" stroke="#4472c4" stroke-width="0.9"/>
<text x="631.2" y="806" fill="#595959" font-size="9.4" font-family="Liberation Sans, sans-serif">80</text>
<polyline clip-path="url(#plotclip)" points="175,962.81 235.56,962.81 235.56,861.26 247.56,855.46 261.51,848.28 275.46,840.16 286.62,833.21 297.79,824.63 308.95,815.35 317.88,807.7 322.9,803.3 326.81,802.6 621.5,802.6" fill="none" stroke="#ffc000" stroke-width="2.6" stroke-linecap="round" stroke-linejoin="round" stroke-dasharray="18 10.5" stroke-dashoffset="3.5"/>
<polyline clip-path="url(#plotclip)" points="175,964.9 235.28,863.46 621.5,863.46" fill="none" stroke="#4472c4" stroke-width="2.7" stroke-linejoin="round"/>
<line x1="396.5" y1="923.9" x2="414.3" y2="923.9" stroke="#ffc000" stroke-width="2.6" stroke-linecap="round"/>
<circle cx="424.4" cy="923.9" r="1.3" fill="#ffc000"/>
<text x="428.3" y="927.6" fill="#595959" font-size="10.1" font-family="Liberation Sans, sans-serif">系统压力</text>
<line x1="493.5" y1="923.9" x2="521.7" y2="923.9" stroke="#4472c4" stroke-width="2.7" stroke-linecap="round"/>
<text x="525.4" y="927.6" fill="#595959" font-size="10.1" font-family="Liberation Sans, sans-serif">液压缸位移</text>
<text transform="translate(153.9,885) rotate(-90)" x="0" y="0" fill="#595959" font-size="10.7" font-family="Liberation Sans, sans-serif" text-anchor="middle">液压系统压力<tspan font-size="12" letter-spacing="0.9">/MPa</tspan></text>
<text transform="translate(656.2,883.4) rotate(-90)" x="0" y="0" fill="#595959" font-size="10.6" font-family="Liberation Sans, sans-serif" text-anchor="middle">液压缸位移<tspan font-size="12">/mm</tspan></text>
<text x="400.4" y="994" fill="#595959" font-size="10.6" font-family="Liberation Sans, sans-serif" text-anchor="middle">时间/s</text>
</g>
  <polygon points="67.5,1053.1 400,1050.6 727,1053.1 727,1054.9 400,1057.9 67.5,1054.9" fill="#000"/>
</svg>
<div class="abs foot" style="left:395.5px;top:1059.5px;">70</div>
<div class="abs foot" style="left:636px;top:1059.5px;">2022.No.2</div>
</body>
</html>
